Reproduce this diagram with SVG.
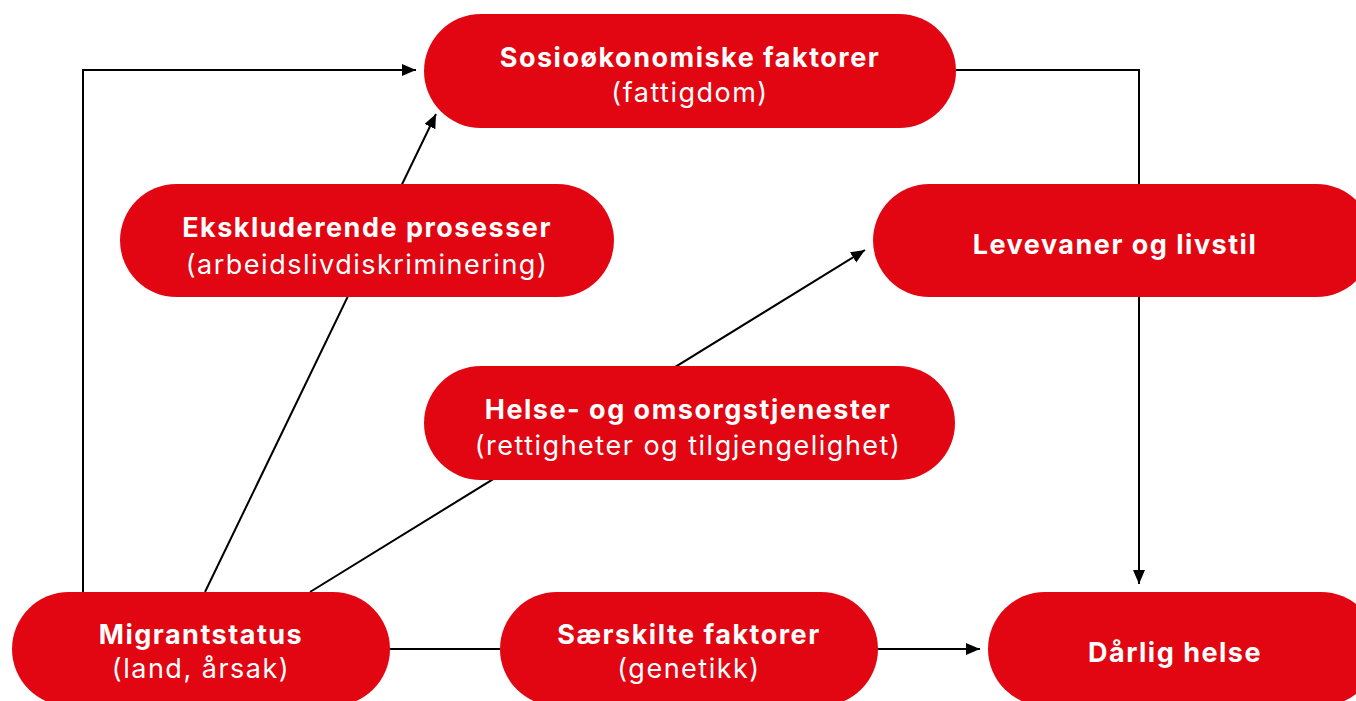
<svg xmlns="http://www.w3.org/2000/svg" width="1356" height="701" viewBox="0 0 1356 701">
<defs>
<marker id="arr" markerUnits="userSpaceOnUse" markerWidth="16" markerHeight="14" refX="14" refY="6" orient="auto">
<path d="M0,0 L14,6 L0,12 z" fill="#000"/>
</marker>
<style>
.box{fill:#e20613}
.t{font-family:Inter,"Liberation Sans",sans-serif;font-size:27px;letter-spacing:1.5px;fill:#fff;text-anchor:middle}
.b{font-weight:700}
.c{fill:none;stroke:#000;stroke-width:2}
</style>
</defs>
<rect width="1356" height="701" fill="#fff"/>
<g id="connectors">
<path class="c" d="M83,592 L83,70 L416,70" marker-end="url(#arr)"/>
<path class="c" d="M205,592 L436,114" marker-end="url(#arr)"/>
<path class="c" d="M310,592 L865,250" marker-end="url(#arr)"/>
<path class="c" d="M956,70 L1139,70 L1139,584" marker-end="url(#arr)"/>
<path class="c" d="M390,649 L500,649"/>
<path class="c" d="M878,649 L980,649" marker-end="url(#arr)"/>
</g>
<g id="sosio">
<rect class="box" x="424" y="14" width="532" height="114" rx="57"/>
<text class="t b" x="690" y="67">Sosioøkonomiske faktorer</text>
<text class="t" x="690" y="102">(fattigdom)</text>
</g>
<g id="ekskl">
<rect class="box" x="120" y="184" width="494" height="113" rx="56.5"/>
<text class="t b" x="367" y="237">Ekskluderende prosesser</text>
<text class="t" x="367" y="274">(arbeidslivdiskriminering)</text>
</g>
<g id="levevaner">
<rect class="box" x="873" y="184" width="500" height="113" rx="56.5"/>
<text class="t b" x="1115" y="254">Levevaner og livstil</text>
</g>
<g id="helse">
<rect class="box" x="424" y="366" width="531" height="114" rx="57"/>
<text class="t b" x="688" y="419">Helse- og omsorgstjenester</text>
<text class="t" x="688" y="455">(rettigheter og tilgjengelighet)</text>
</g>
<g id="migrant">
<rect class="box" x="12" y="592" width="378" height="114" rx="57"/>
<text class="t b" x="201" y="644">Migrantstatus</text>
<text class="t" x="201" y="678">(land, årsak)</text>
</g>
<g id="saerskilte">
<rect class="box" x="500" y="592" width="378" height="114" rx="57"/>
<text class="t b" x="689" y="644">Særskilte faktorer</text>
<text class="t" x="689" y="678">(genetikk)</text>
</g>
<g id="darlig">
<rect class="box" x="988" y="592" width="390" height="114" rx="57"/>
<text class="t b" x="1175" y="662">Dårlig helse</text>
</g>
</svg>
